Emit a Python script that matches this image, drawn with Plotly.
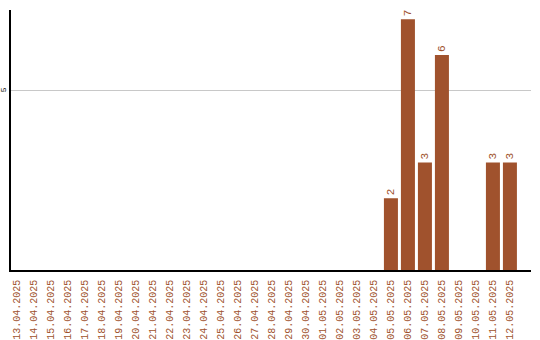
import plotly.graph_objects as go

dates = ["13.04.2025","14.04.2025","15.04.2025","16.04.2025","17.04.2025","18.04.2025",
         "19.04.2025","20.04.2025","21.04.2025","22.04.2025","23.04.2025","24.04.2025",
         "25.04.2025","26.04.2025","27.04.2025","28.04.2025","29.04.2025","30.04.2025",
         "01.05.2025","02.05.2025","03.05.2025","04.05.2025","05.05.2025","06.05.2025",
         "07.05.2025","08.05.2025","09.05.2025","10.05.2025","11.05.2025","12.05.2025"]
values = [0,0,0,0,0,0,0,0,0,0,0,0,0,0,0,0,0,0,0,0,0,0,2,7,3,6,0,0,3,3]

color = "#A0522D"
labels = [str(v) if v > 0 else "" for v in values]

fig = go.Figure(go.Bar(
    x=dates, y=values, marker_color=color, marker_line_width=0,
    text=labels, textposition="outside", textangle=-90,
    textfont=dict(family="Liberation Mono", size=11, color=color),
    cliponaxis=False,
))
fig.update_layout(
    width=540, height=340,
    margin=dict(l=11, r=9, t=10, b=70),
    paper_bgcolor="white", plot_bgcolor="white",
    bargap=0.176, showlegend=False,
    xaxis=dict(showline=True, linecolor="black", linewidth=1.5, ticks="",
               range=[-0.35, 30.24],
               tickangle=-90, tickfont=dict(family="Liberation Mono", size=10, color=color),
               showgrid=False, automargin=False, ticklabelstandoff=4),
    yaxis=dict(range=[0, 7.26], tickvals=[5], ticktext=["5"], showline=True,
               linecolor="black", linewidth=1.5, gridcolor="#c8c8c8", gridwidth=1,
               tickangle=-90, tickfont=dict(family="Liberation Mono", size=8, color="black"),
               zeroline=False, ticks="", automargin=False, ticklabelstandoff=0),
)
fig.write_html("out.html")
